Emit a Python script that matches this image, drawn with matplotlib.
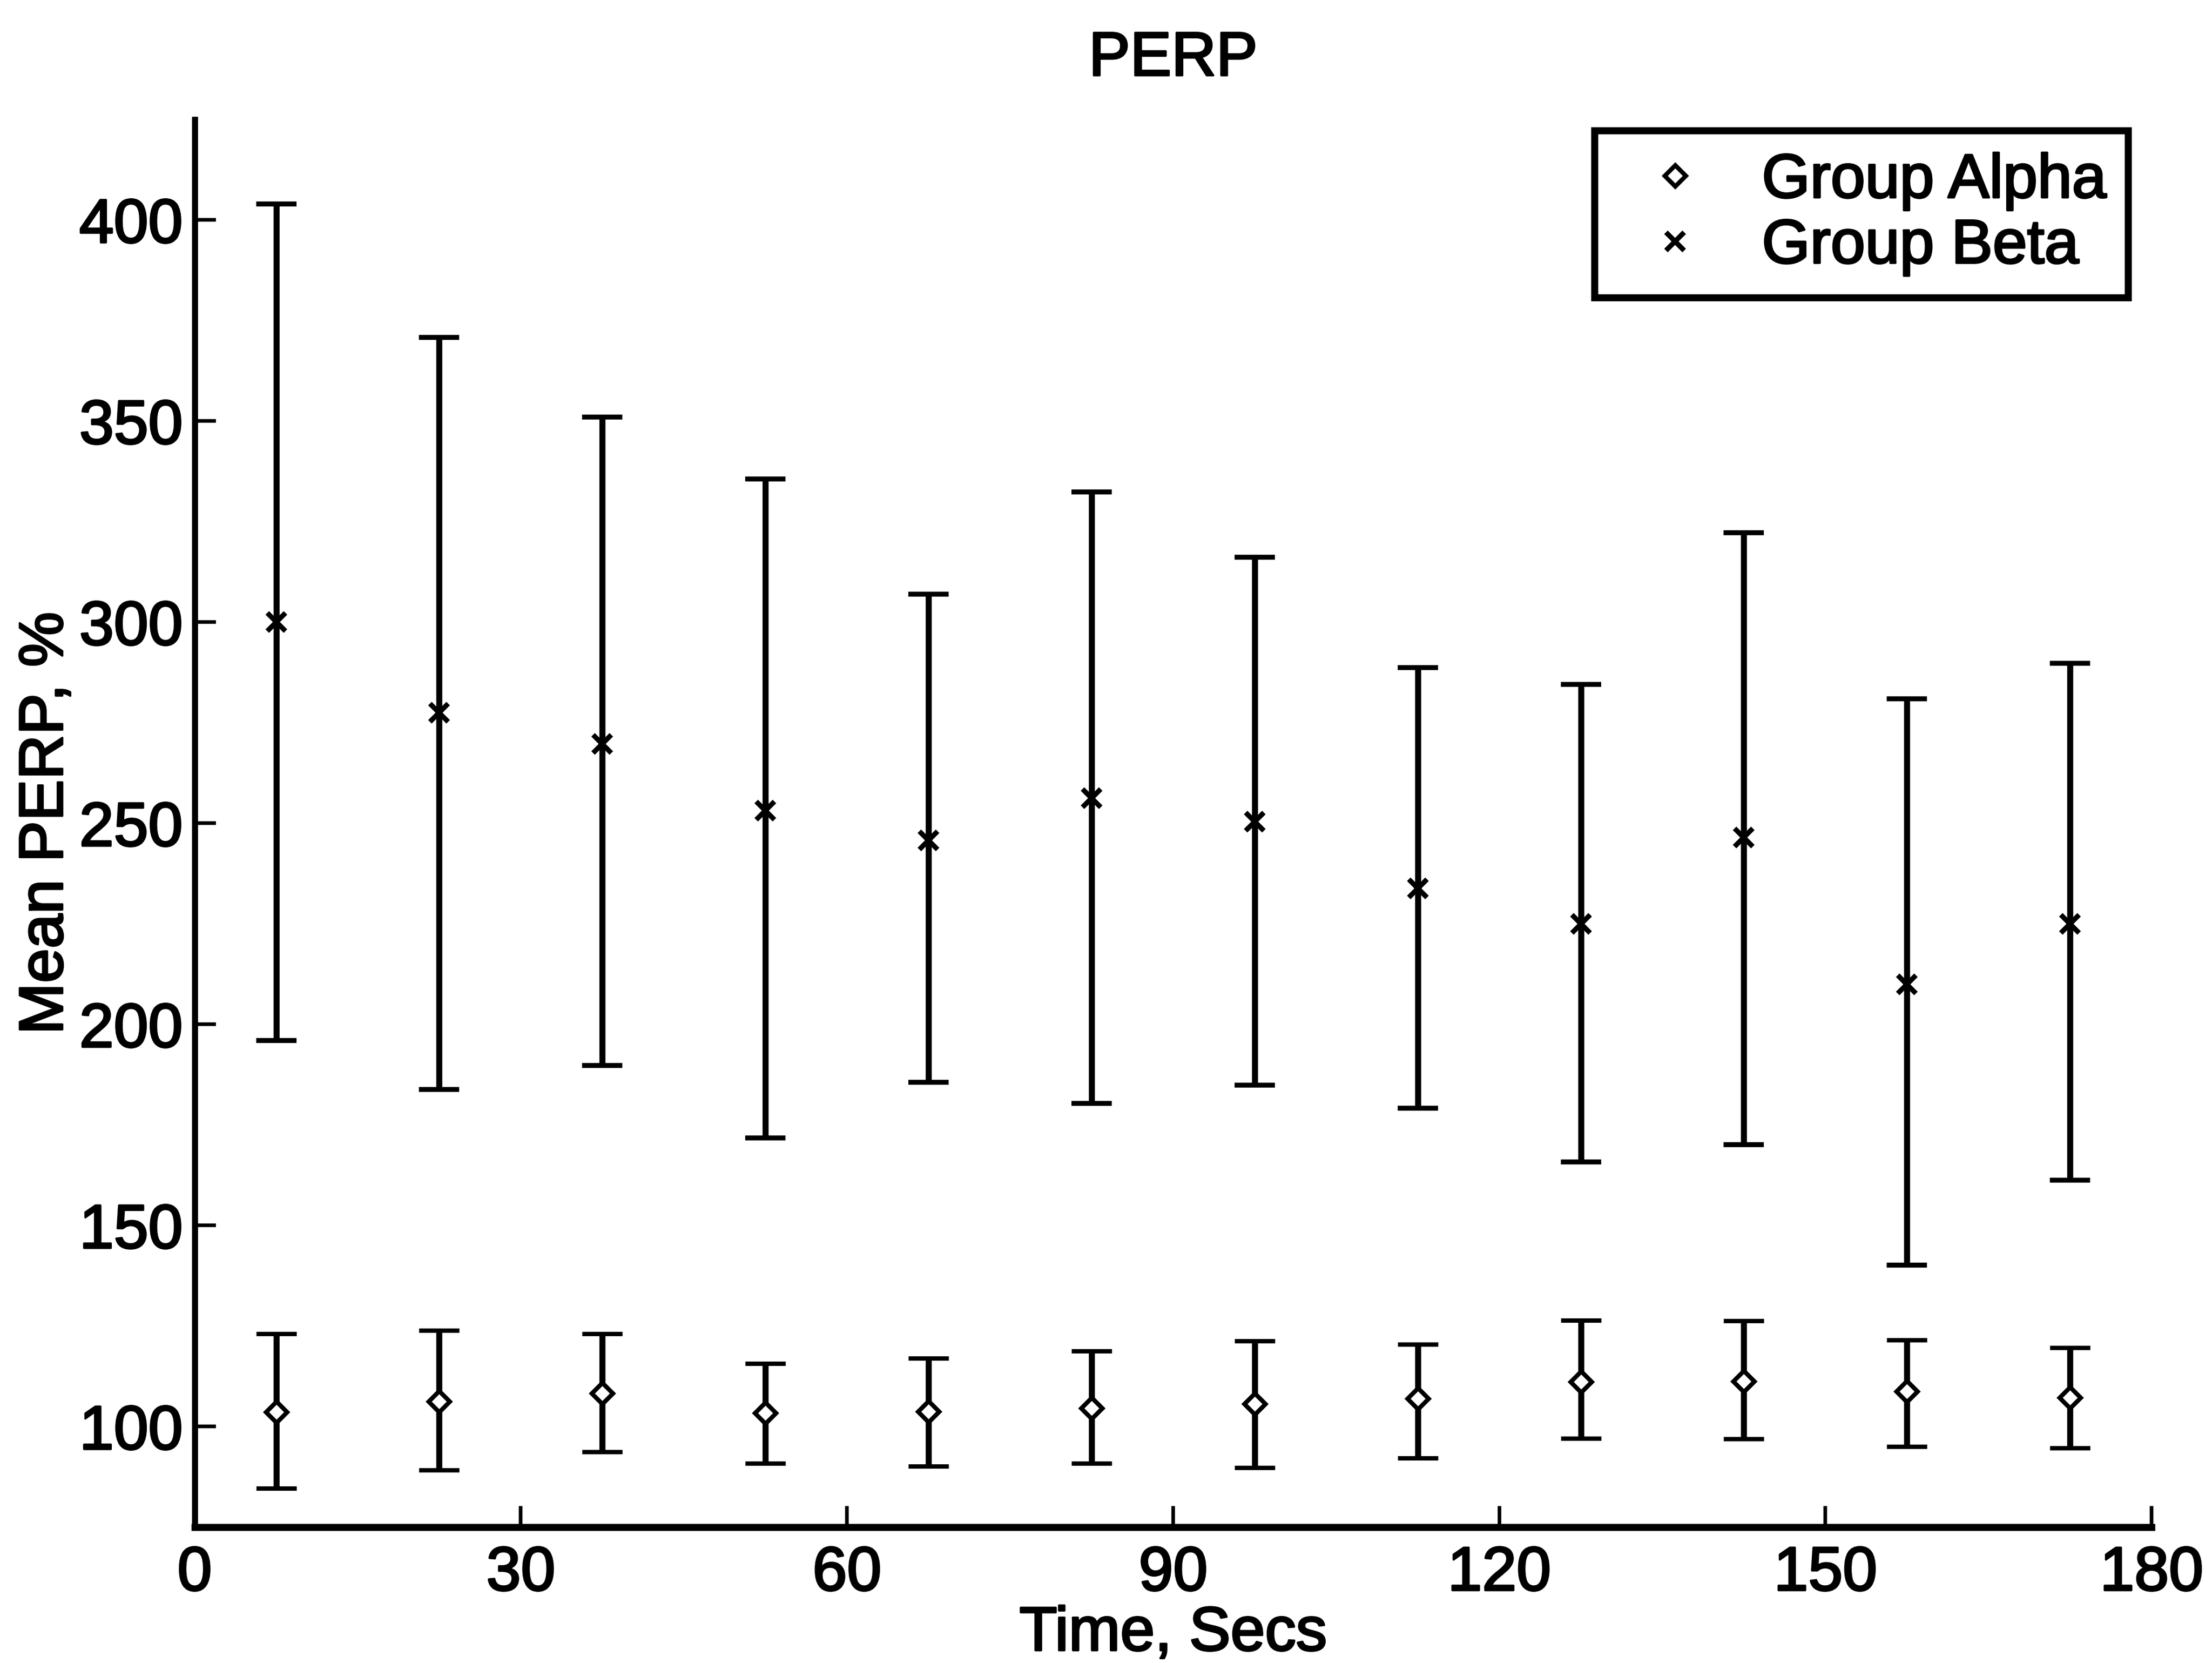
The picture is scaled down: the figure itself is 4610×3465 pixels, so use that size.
import numpy as np
import matplotlib.pyplot as plt
import matplotlib.patheffects as pe
from matplotlib.lines import Line2D

plt.rcParams['font.family'] = ['Liberation Sans', 'DejaVu Sans']

# time bins (mid points, secs)
time = [7.5, 22.5, 37.5, 52.5, 67.5, 82.5, 97.5, 112.5, 127.5, 142.5, 157.5, 172.5]

# Group Alpha: mean and error bar ends
alpha_mean = [103.6, 106.2, 108.3, 103.4, 103.7, 104.6, 105.6, 107.0, 111.2, 111.3, 108.8, 107.2]
alpha_high = [123.1, 123.9, 123.1, 115.7, 117.0, 118.8, 121.3, 120.4, 126.4, 126.3, 121.5, 119.6]
alpha_low = [84.7, 89.2, 93.7, 90.8, 90.1, 90.8, 89.8, 92.2, 97.1, 97.0, 95.0, 94.7]

# Group Beta
beta_mean = [300.0, 277.5, 269.7, 253.2, 245.8, 256.3, 250.4, 233.8, 225.0, 246.5, 209.9, 225.0]
beta_high = [404.0, 370.8, 351.0, 335.6, 307.0, 332.4, 316.2, 288.7, 284.5, 322.2, 281.0, 289.8]
beta_low = [196.0, 183.8, 189.8, 171.8, 185.6, 180.3, 184.9, 179.2, 165.8, 170.1, 140.1, 161.3]

xticks = [0, 30, 60, 90, 120, 150, 180]
yticks = [100, 150, 200, 250, 300, 350, 400]

fs = 31
# the scanned original has heavy text, thicken a bit
heavy = [pe.withStroke(linewidth=1.0, foreground='black')]

fig = plt.figure(figsize=(4610 / 300, 3465 / 300), dpi=300)
ax = fig.add_axes([0.088, 0.0817, 0.8847, 0.8465])

t = np.array(time)
am = np.array(alpha_mean)
bm = np.array(beta_mean)
a_err = [am - np.array(alpha_low), np.array(alpha_high) - am]
b_err = [bm - np.array(beta_low), np.array(beta_high) - bm]

ax.errorbar(t, am, yerr=a_err, fmt='D', color='black', mfc='white', mec='black',
            ms=7.5, mew=2.2, ecolor='black', elinewidth=3, capsize=10, capthick=3.5)
ax.errorbar(t, bm, yerr=b_err, fmt='x', color='black', mec='black',
            ms=9, mew=2.5, ecolor='black', elinewidth=3, capsize=10, capthick=3.5)

ax.set_xlim(0, 180)
ax.set_ylim(75, 425)
ax.set_xticks(xticks)
ax.set_yticks(yticks)
ax.tick_params(direction='in', length=10.5, width=1.8, labelsize=fs)
ax.tick_params(axis='x', pad=9)
ax.tick_params(axis='y', pad=6)

ax.spines['top'].set_visible(False)
ax.spines['right'].set_visible(False)
ax.spines['left'].set_linewidth(3)
ax.spines['bottom'].set_linewidth(3.5)

ttl = ax.set_title('PERP', fontsize=fs, pad=22)
xl = ax.set_xlabel('Time, Secs', fontsize=fs, labelpad=1)
yl = ax.set_ylabel('Mean PERP, %', fontsize=fs, labelpad=2)

handles = [
    Line2D([], [], ls='none', marker='D', ms=7.5, mfc='white', mec='black', mew=2.2),
    Line2D([], [], ls='none', marker='x', ms=9, mec='black', mew=2.5),
]
leg = ax.legend(handles, ['Group Alpha', 'Group Beta'], loc='upper right',
                bbox_to_anchor=(0.988, 0.992), borderaxespad=0, fontsize=fs,
                fancybox=False, framealpha=1, edgecolor='black',
                borderpad=0.35, handlelength=1.9, handletextpad=0.45, labelspacing=0.12)
leg.get_frame().set_linewidth(3.5)

for txt in [ttl, xl, yl] + ax.get_xticklabels() + ax.get_yticklabels() + leg.get_texts():
    txt.set_path_effects(heavy)

fig.savefig('out.png', dpi=300)
